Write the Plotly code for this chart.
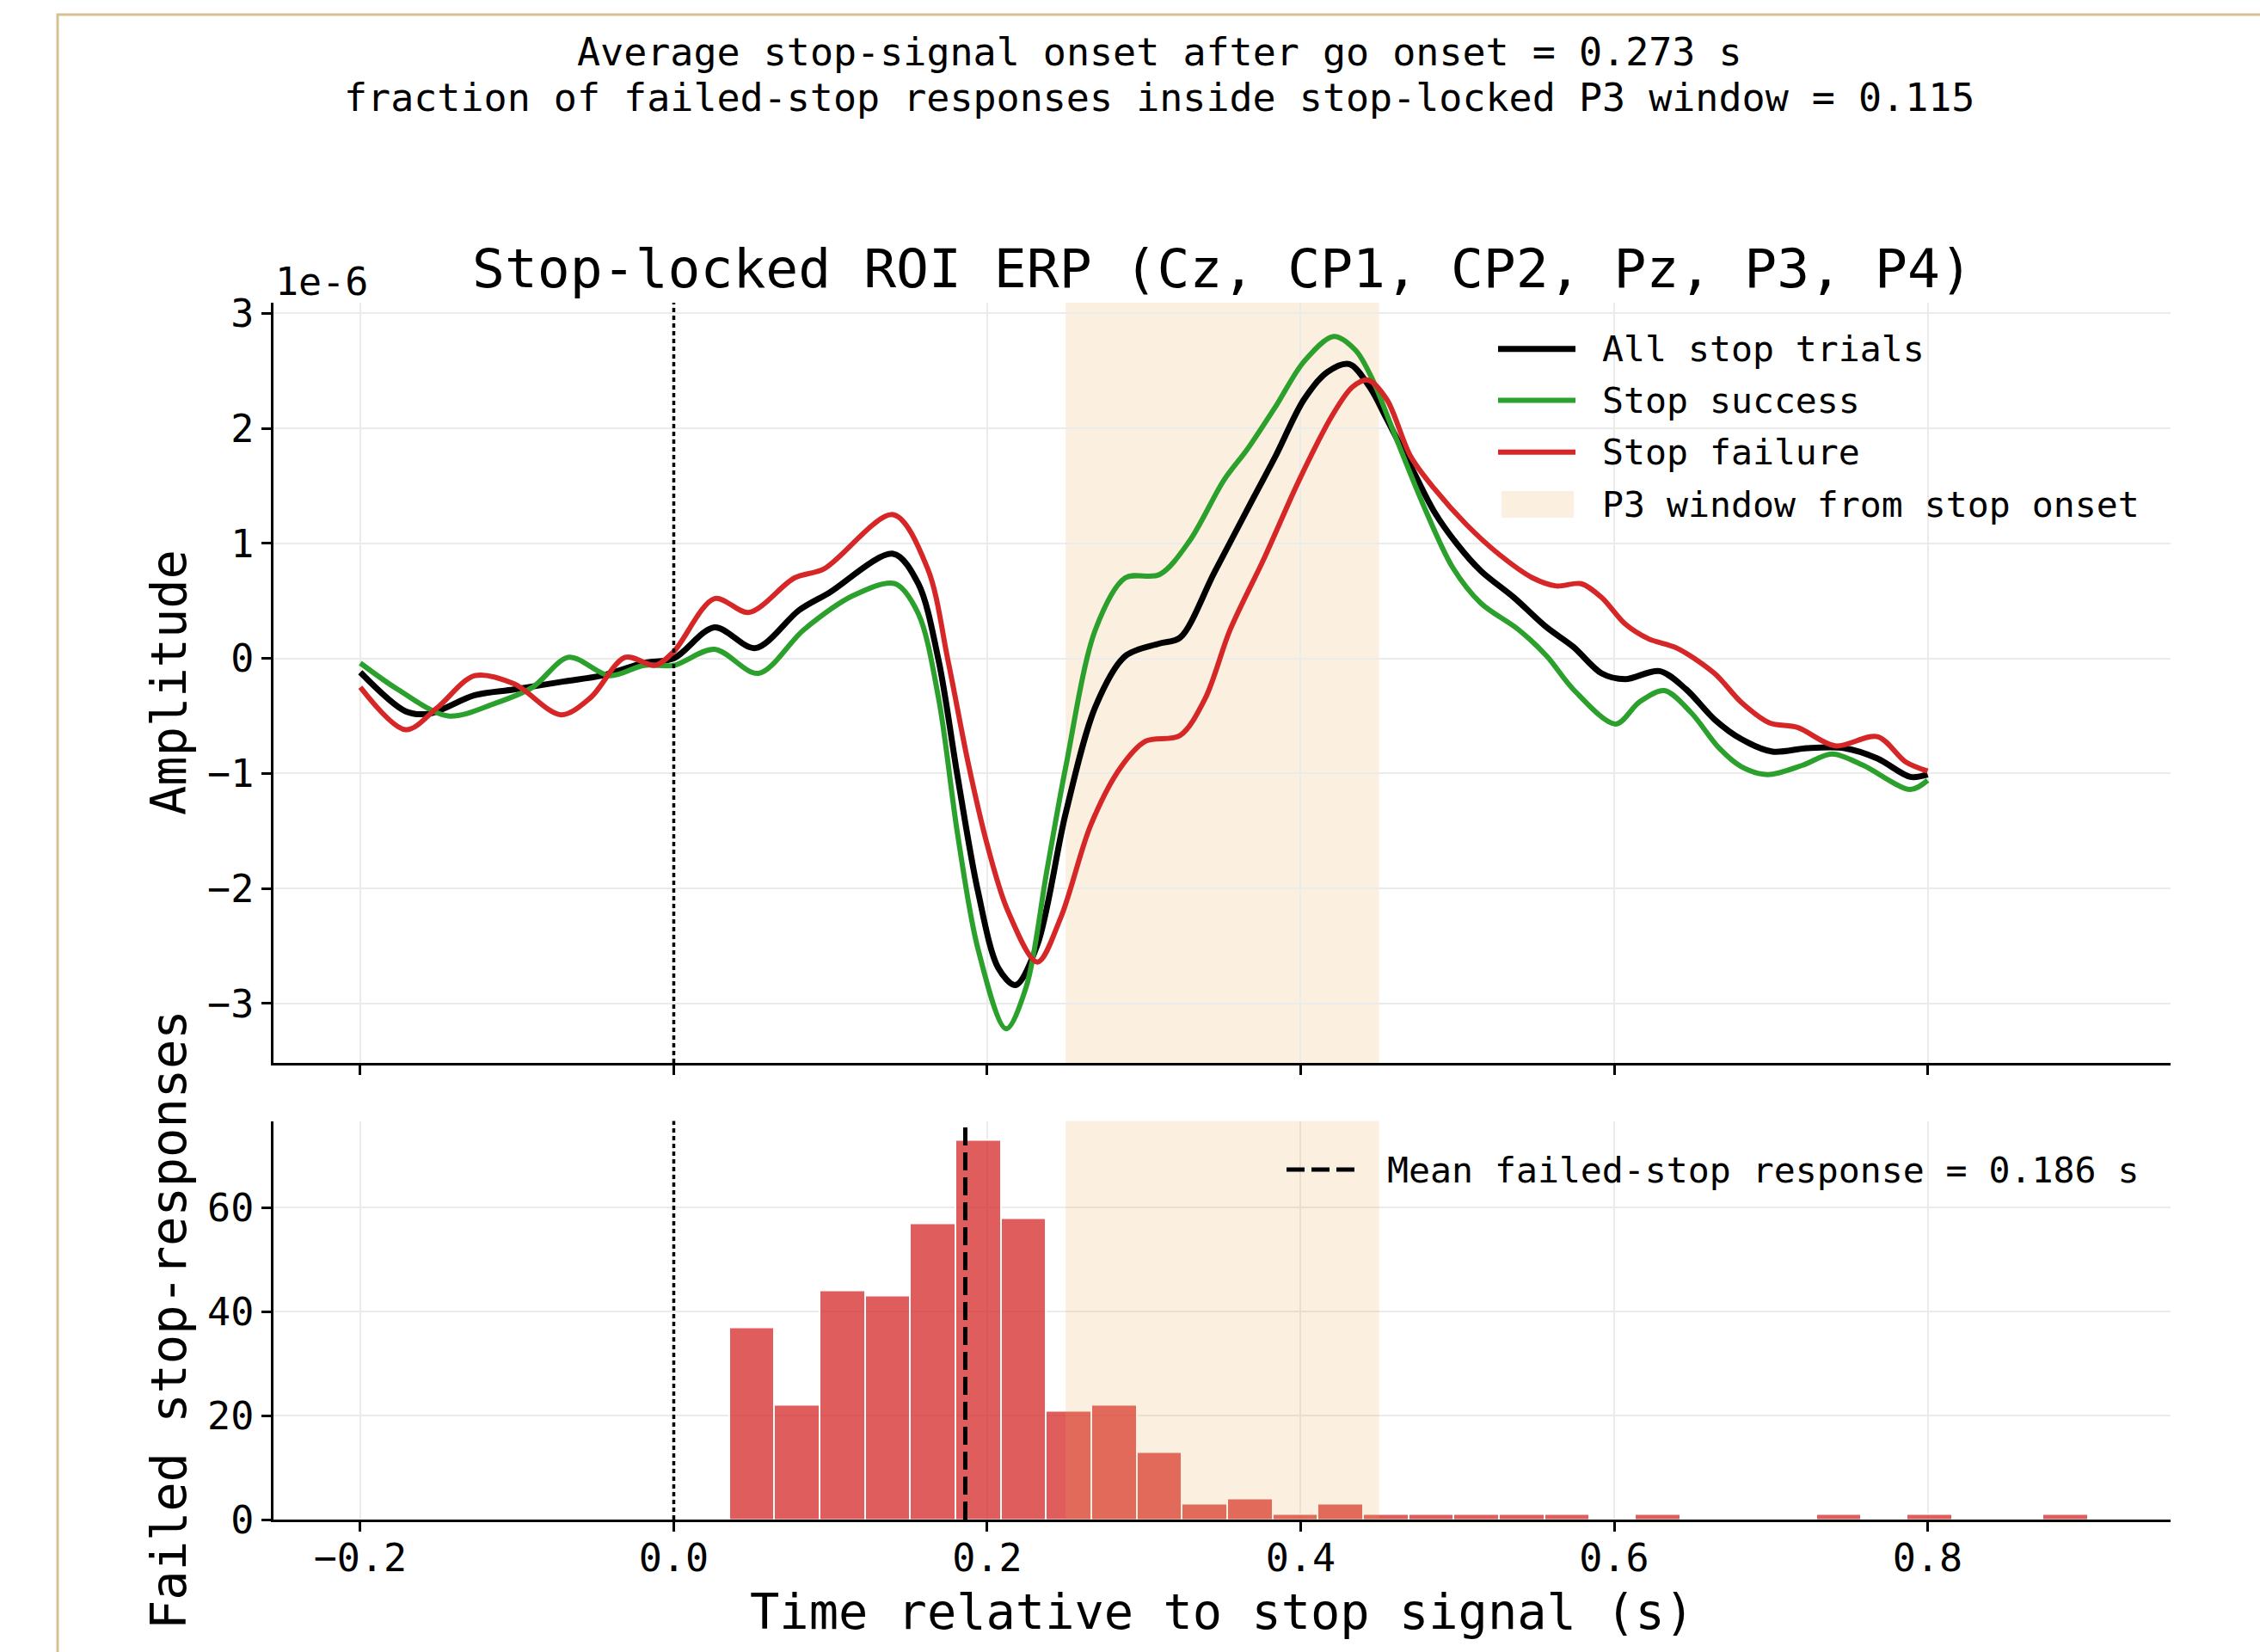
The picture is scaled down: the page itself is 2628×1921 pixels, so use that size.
import numpy as np
import plotly.graph_objects as go

# ---------------- data (amplitudes in units of 1e-6) ----------------
t_all = [-0.200, -0.171, -0.156, -0.127, -0.102, -0.070, -0.046, -0.019, 0.000,
         0.026, 0.052, 0.080, 0.099, 0.140, 0.156, 0.169, 0.181, 0.194, 0.207,
         0.218, 0.232, 0.250, 0.269, 0.288, 0.310, 0.323, 0.345, 0.370, 0.384,
         0.402, 0.417, 0.431, 0.444, 0.455, 0.470, 0.485, 0.500, 0.515, 0.536,
         0.557, 0.574, 0.592, 0.607, 0.629, 0.646, 0.664, 0.681, 0.701, 0.723,
         0.747, 0.768, 0.789, 0.800]
v_all = [-0.12, -0.46, -0.48, -0.32, -0.27, -0.20, -0.15, -0.04, 0.00,
         0.27, 0.09, 0.42, 0.57, 0.91, 0.65, -0.02, -1.02, -2.02, -2.69,
         -2.84, -2.49, -1.35, -0.42, 0.02, 0.13, 0.18, 0.75, 1.40, 1.76,
         2.25, 2.49, 2.56, 2.36, 2.08, 1.68, 1.28, 0.99, 0.76, 0.53,
         0.27, 0.10, -0.13, -0.18, -0.11, -0.27, -0.53, -0.70, -0.81, -0.78,
         -0.78, -0.87, -1.03, -1.01]

t_succ = [-0.200, -0.176, -0.144, -0.114, -0.090, -0.067, -0.041, -0.019, 0.000,
          0.026, 0.054, 0.083, 0.115, 0.141, 0.156, 0.169, 0.181, 0.194, 0.212,
          0.225, 0.238, 0.250, 0.269, 0.288, 0.310, 0.329, 0.351, 0.366, 0.384,
          0.402, 0.421, 0.435, 0.446, 0.461, 0.479, 0.497, 0.515, 0.539, 0.557,
          0.574, 0.601, 0.616, 0.632, 0.649, 0.667, 0.681, 0.698, 0.720, 0.739,
          0.759, 0.789, 0.800]
v_succ = [-0.04, -0.27, -0.50, -0.39, -0.25, 0.01, -0.15, -0.06, -0.06,
          0.08, -0.13, 0.25, 0.55, 0.65, 0.39, -0.35, -1.52, -2.52, -3.22,
          -2.85, -1.85, -0.95, 0.25, 0.70, 0.73, 1.02, 1.55, 1.82, 2.19,
          2.58, 2.80, 2.68, 2.42, 1.91, 1.31, 0.79, 0.48, 0.25, 0.02,
          -0.27, -0.57, -0.38, -0.28, -0.47, -0.78, -0.94, -1.01, -0.93, -0.83,
          -0.93, -1.14, -1.06]

t_fail = [-0.200, -0.171, -0.151, -0.127, -0.102, -0.072, -0.053, -0.031, -0.012, 0.000,
          0.026, 0.048, 0.077, 0.096, 0.140, 0.162, 0.175, 0.188, 0.200, 0.213,
          0.232, 0.247, 0.266, 0.285, 0.301, 0.323, 0.339, 0.355, 0.377, 0.399,
          0.420, 0.433, 0.443, 0.455, 0.470, 0.485, 0.506, 0.527, 0.548, 0.563,
          0.579, 0.592, 0.607, 0.622, 0.640, 0.664, 0.681, 0.699, 0.717, 0.741,
          0.768, 0.786, 0.800]
v_fail = [-0.25, -0.62, -0.43, -0.15, -0.22, -0.49, -0.34, 0.01, -0.06, 0.06,
          0.52, 0.40, 0.70, 0.78, 1.25, 0.78, -0.02, -0.92, -1.62, -2.19,
          -2.64, -2.25, -1.45, -0.95, -0.72, -0.67, -0.35, 0.25, 0.88, 1.55,
          2.11, 2.36, 2.42, 2.25, 1.76, 1.48, 1.16, 0.90, 0.70, 0.63,
          0.65, 0.53, 0.30, 0.17, 0.09, -0.13, -0.38, -0.56, -0.60, -0.76,
          -0.68, -0.90, -0.98]

# failed-stop response histogram (30 bins)
hist_min, hist_max, n_bins = 0.0352, 0.9022, 30
hist_counts = [37, 22, 44, 43, 57, 73, 58, 21, 22, 13,
               3, 4, 1, 3, 1, 1, 1, 1, 1, 0,
               1, 0, 0, 0, 1, 0, 1, 0, 0, 1]
mean_failed_rt = 0.186
p3_window = [0.25, 0.45]
stop_onset = 0.0

x_ticks = [-0.2, 0.0, 0.2, 0.4, 0.6, 0.8]
amp_ticks = [-3, -2, -1, 0, 1, 2, 3]
count_ticks = [0, 20, 40, 60]

suptitle_lines = ["Average stop-signal onset after go onset = 0.273 s",
                  "fraction of failed-stop responses inside stop-locked P3 window = 0.115"]
title_text = "Stop-locked ROI ERP (Cz, CP1, CP2, Pz, P3, P4)"
series_names = ["All stop trials", "Stop success", "Stop failure"]
window_name = "P3 window from stop onset"
mean_label = "Mean failed-stop response = 0.186 s"

# ---------------- layout geometry ----------------
W, H = 2628, 1921
ML, MR, MT, MB = 318, 104, 352, 154
PW, PH = W - ML - MR, H - MT - MB
BOTTOM = H - MB


def fx(p):
    return (p - ML) / PW


def fy(p):
    return (BOTTOM - p) / PH


FONT = "DejaVu Sans Mono"
BLACK = "#000000"
GREEN = "#2ca02c"
RED = "#d62728"
WINDOW = "rgba(232,165,80,0.18)"
GRID = "#ebebeb"

edges = np.linspace(hist_min, hist_max, n_bins + 1)
centers = (edges[:-1] + edges[1:]) / 2
widths = np.diff(edges)

fig = go.Figure()
for t, v, c, w, name in [(t_all, v_all, BLACK, 7, series_names[0]),
                         (t_succ, v_succ, GREEN, 6, series_names[1]),
                         (t_fail, v_fail, RED, 6, series_names[2])]:
    fig.add_trace(go.Scatter(x=t, y=v, mode="lines", name=name,
                             line=dict(color=c, width=w, shape="spline", smoothing=0.9),
                             xaxis="x", yaxis="y", showlegend=False))

fig.add_trace(go.Bar(x=centers, y=hist_counts, width=widths,
                     marker=dict(color="rgba(214,39,40,0.75)",
                                 line=dict(color="white", width=2)),
                     xaxis="x2", yaxis="y2", showlegend=False))

axis_common = dict(showline=True, linewidth=2.5, linecolor=BLACK, mirror=False,
                   ticks="outside", ticklen=11, tickwidth=2.5, tickcolor=BLACK,
                   showgrid=True, gridcolor=GRID, gridwidth=2, zeroline=False,
                   tickfont=dict(family=FONT, size=45, color=BLACK))
xr = [-0.2554, 0.955]
top_dom = [fy(1236), 1.0]
bot_dom = [0.0, fy(1303.5)]

fig.update_layout(
    width=W, height=H,
    margin=dict(l=ML, r=MR, t=MT, b=MB),
    paper_bgcolor="white", plot_bgcolor="white",
    font=dict(family=FONT, color=BLACK),
    showlegend=False, bargap=0,
    xaxis=dict(axis_common, domain=[0, 1], anchor="y", range=xr,
               tickvals=x_ticks, showticklabels=False),
    yaxis=dict(axis_common, domain=top_dom, anchor="x", range=[-3.517, 3.093],
               tickvals=amp_ticks),
    xaxis2=dict(axis_common, domain=[0, 1], anchor="y2", range=xr,
                tickvals=x_ticks, tickformat=".1f", ticklabelstandoff=-8),
    yaxis2=dict(axis_common, domain=bot_dom, anchor="x2", range=[0, 76.65],
                tickvals=count_ticks),
)

shapes = []
# P3 window
shapes.append(dict(type="rect", xref="x", yref="y domain", x0=p3_window[0], x1=p3_window[1],
                   y0=0, y1=1, fillcolor=WINDOW, line=dict(width=0), layer="below"))
shapes.append(dict(type="rect", xref="x2", yref="y2 domain", x0=p3_window[0], x1=p3_window[1],
                   y0=0, y1=1, fillcolor=WINDOW, line=dict(width=0), layer="above"))
# stop onset dotted lines
for xr_, yr_ in [("x", "y domain"), ("x2", "y2 domain")]:
    shapes.append(dict(type="line", xref=xr_, yref=yr_, x0=stop_onset, x1=stop_onset, y0=0, y1=1,
                       line=dict(color=BLACK, width=3.5, dash="5px,4px"), layer="above"))
# mean failed-stop response
shapes.append(dict(type="line", xref="x2", yref="y2 domain", x0=mean_failed_rt, x1=mean_failed_rt,
                   y0=0, y1=1, line=dict(color=BLACK, width=5, dash="21px,8px"), layer="above"))
# figure border
shapes.append(dict(type="rect", xref="paper", yref="paper", x0=fx(67), x1=fx(2700),
                   y0=fy(2000), y1=fy(17), line=dict(color="#d7c192", width=3),
                   fillcolor="rgba(0,0,0,0)", layer="below"))

# manual legend (top panel)
leg_rows = [405.7, 465.5, 525.7, 586.7]
for (name, col, lw), yrow in zip([(series_names[0], BLACK, 7), (series_names[1], GREEN, 6),
                                  (series_names[2], RED, 6)], leg_rows[:3]):
    shapes.append(dict(type="line", xref="paper", yref="paper", x0=fx(1742), x1=fx(1832),
                       y0=fy(yrow), y1=fy(yrow), line=dict(color=col, width=lw), layer="above"))
shapes.append(dict(type="rect", xref="paper", yref="paper", x0=fx(1746), x1=fx(1830),
                   y0=fy(602), y1=fy(571), fillcolor=WINDOW, line=dict(width=0), layer="above"))
# manual legend (bottom panel)
shapes.append(dict(type="line", xref="paper", yref="paper", x0=fx(1496), x1=fx(1577),
                   y0=fy(1360), y1=fy(1360), line=dict(color=BLACK, width=5, dash="21px,8px"),
                   layer="above"))
fig.update_layout(shapes=shapes)

ann = []


def text(x, y, s, size, xanchor="center", angle=0):
    ann.append(dict(xref="paper", yref="paper", x=fx(x), y=fy(y), text=s, showarrow=False,
                    xanchor=xanchor, yanchor="middle", textangle=angle,
                    font=dict(family=FONT, size=size, color=BLACK)))


text(1348, 61, suptitle_lines[0], 45)
text(1348, 113, suptitle_lines[1], 45)
text(1421, 312, title_text, 63)
text(318, 327, "1e-6", 45, xanchor="left")
text(196, 794, "Amplitude", 57, angle=-90)
text(196, 1535, "Failed stop-responses", 57, angle=-90)
text(1421, 1874, "Time relative to stop signal (s)", 57)
for name, yrow in zip(series_names + [window_name], leg_rows):
    text(1861, yrow, name, 41.5, xanchor="left")
text(1611, 1360, mean_label, 41.5, xanchor="left")
fig.update_layout(annotations=ann)

fig.write_html("out.html")
